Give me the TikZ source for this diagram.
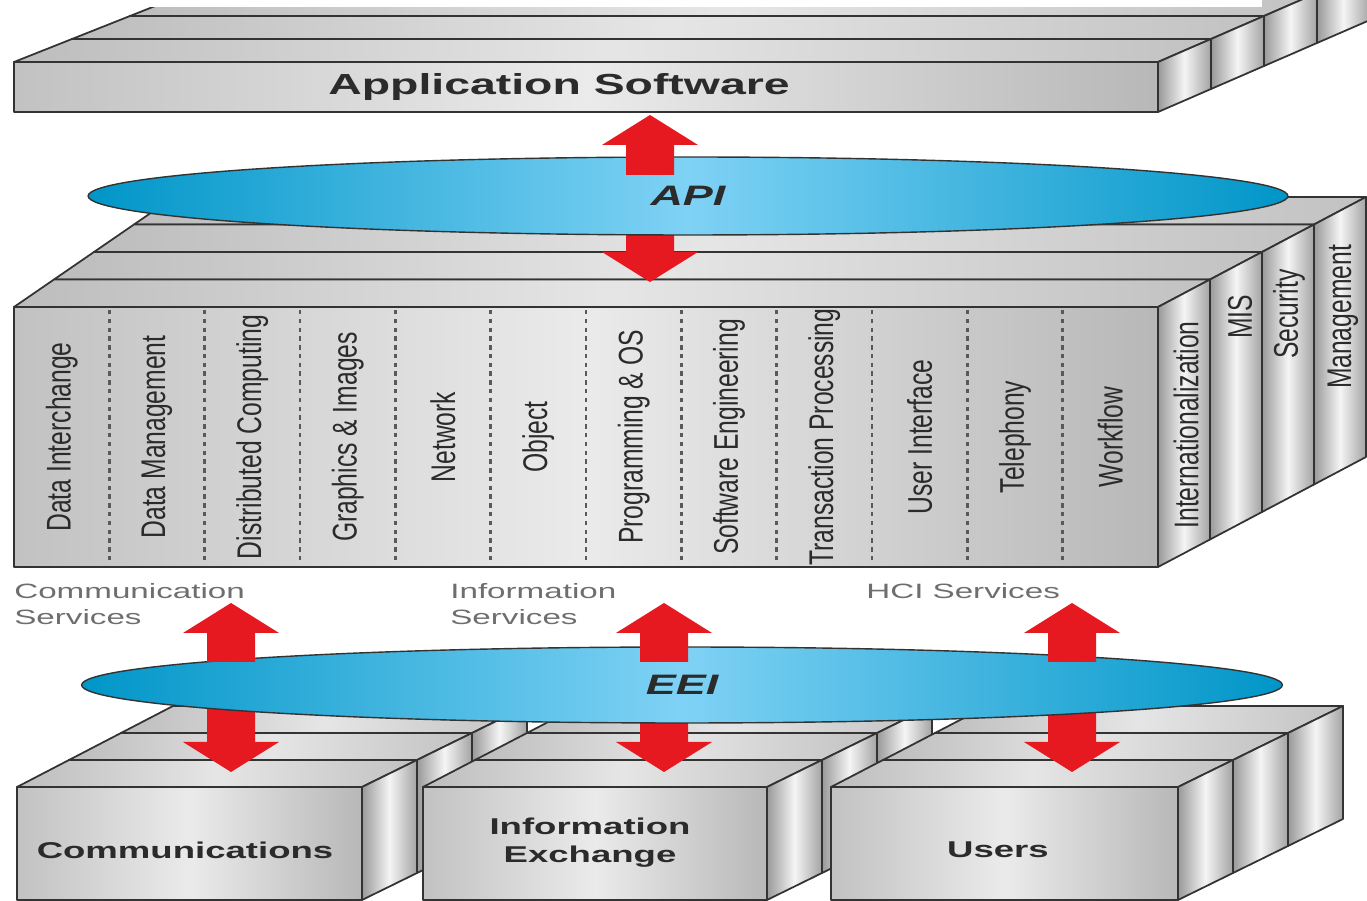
\documentclass[tikz,border=0pt]{standalone}
\usepackage{fontspec}
\setmainfont{Liberation Sans}
\newfontfamily\widefont[FakeStretch=1.6]{Liberation Sans}
\newfontfamily\narrowfont[FakeStretch=0.72]{Liberation Sans}
\usepackage{tikz}
\usetikzlibrary{shapes.geometric}
\definecolor{tink}{HTML}{2B2B2B}
\definecolor{tlabel}{HTML}{6E6E6E}
\definecolor{tedge}{HTML}{333333}
\definecolor{tred}{HTML}{E5191F}
\definecolor{tblue}{HTML}{0096C8}
\definecolor{tbluelight}{HTML}{7FD2F5}

% stack of slabs: L R T B dxL dxR dy {list of slab indices, back first}
\newcommand{\slabstack}[8]{%
  \foreach \k in {#8}{
    \pgfmathsetmacro\la{#1+\k*#5}\pgfmathsetmacro\lb{#1+(\k+1)*#5}
    \pgfmathsetmacro\ra{#2+\k*#6}\pgfmathsetmacro\rb{#2+(\k+1)*#6}
    \pgfmathsetmacro\ta{#3-\k*#7}\pgfmathsetmacro\tb{#3-(\k+1)*#7}
    \pgfmathsetmacro\ba{#4-\k*#7}\pgfmathsetmacro\bb{#4-(\k+1)*#7}
    \draw[slabtop] (\la,\ta) -- (\ra,\ta) -- (\rb,\tb) -- (\lb,\tb) -- cycle;
    \draw[slabside] (\ra,\ta) -- (\rb,\tb) -- (\rb,\bb) -- (\ra,\ba) -- cycle;
    \draw[slabfront] (\la,\ta) rectangle (\ra,\ba);
  }}
% one half of a red double arrow: centre x, tip y, head base y, shaft end y
\newcommand{\arrowpiece}[4]{%
  \fill[tred] (#1,#2) -- ({#1+48},#3) -- ({#1+24},#3) -- ({#1+24},#4)
    -- ({#1-24},#4) -- ({#1-24},#3) -- ({#1-48},#3) -- cycle;}

\begin{document}
\begin{tikzpicture}[x=0.02cm, y=-0.02cm,
  slabline/.style={draw=tedge, line width=1pt, line join=round},
  slabfront/.style={slabline, left color=black!24, right color=black!28, middle color=black!8},
  slabtop/.style={slabline, left color=black!26, right color=black!24, middle color=black!10},
  slabside/.style={slabline, left color=black!40, right color=black!36, middle color=black!4},
  colsep/.style={draw=black!65, line width=1.5pt, dash pattern=on 2.5pt off 2.5pt},
  collabel/.style={font=\narrowfont\fontsize{19.5}{20}\selectfont, text=tink, rotate=90, inner sep=0pt},
  boxlabel/.style={font=\widefont\bfseries\fontsize{13}{16}\selectfont, text=tink, align=center},
  servlabel/.style={font=\widefont\fontsize{11.8}{14.7}\selectfont, text=tlabel, align=left,
    anchor=north west, inner sep=0pt},
  iface/.style={ellipse, draw=tedge, line width=0.8pt, inner sep=0pt,
    left color=tblue, right color=tblue, middle color=tbluelight,
    font=\widefont\bfseries\itshape\fontsize{16}{18}\selectfont, text=tink}]

  \useasboundingbox (0,0) rectangle (1367,901);
  \clip (0,0) rectangle (1367,901);

  %% Application software slab
  \slabstack{14}{1158}{62}{112}{58}{53}{23}{3,2,1,0}
  \fill[white] (0,-40) rectangle (1262,7);
  \node[font=\widefont\bfseries\fontsize{16.5}{18}\selectfont, text=tink] (appsw) at (559,87)
    {Application Software};

  %% Service areas
  \slabstack{14}{1158}{307}{567}{40}{52}{27.5}{3,2,1,0}
  \foreach \i in {1,...,11}{
    \draw[colsep] ({14+95.33*\i},310) -- ({14+95.33*\i},564);
  }
  \foreach \t [count=\i] in {Data Interchange, Data Management, Distributed Computing,
      Graphics \& Images, Network, Object, Programming \& OS, Software Engineering,
      Transaction Processing, User Interface, Telephony, Workflow}{
    \node[collabel] (col\i) at ({14+95.33*(\i-0.5)},437) {\t};
  }
  \node[collabel] (intl) at (1186,425) {Internationalization};
  \node[collabel] (mis) at (1240,317) {MIS};
  \node[collabel] (sec) at (1289,314) {Security};
  \node[collabel] (mgmt) at (1343,317) {Management};

  %% API
  \arrowpiece{650}{282}{252}{215}
  \node[iface, minimum width=24cm, minimum height=1.56cm] (api) at (688,196) {API};
  \arrowpiece{650}{115}{145}{175}

  %% External environment
  \slabstack{17}{362}{787}{900}{52}{55}{27}{2,1,0}
  \slabstack{423}{767}{787}{900}{52}{55}{27}{2,1,0}
  \slabstack{831}{1178}{787}{900}{52}{55}{27}{2,1,0}
  \node[boxlabel] (comm) at (185,850) {Communications};
  \node[boxlabel] (infx) at (590,843) {Information\\Exchange};
  \node[boxlabel] (users) at (998,850) {Users};

  %% EEI
  \foreach \cx in {231,664,1072}{
    \arrowpiece{\cx}{772}{742}{700}
  }
  \node[iface, minimum width=24.02cm, minimum height=1.52cm] (eei) at (682,685) {EEI};
  \foreach \cx in {231,664,1072}{
    \arrowpiece{\cx}{603}{633}{662}
  }

  %% Service labels
  \node[servlabel] (commsvc) at (14,583) {Communication\\Services};
  \node[servlabel] (infosvc) at (450,583) {Information\\Services};
  \node[servlabel] (hcisvc) at (866,583) {HCI Services};

\end{tikzpicture}
\end{document}
